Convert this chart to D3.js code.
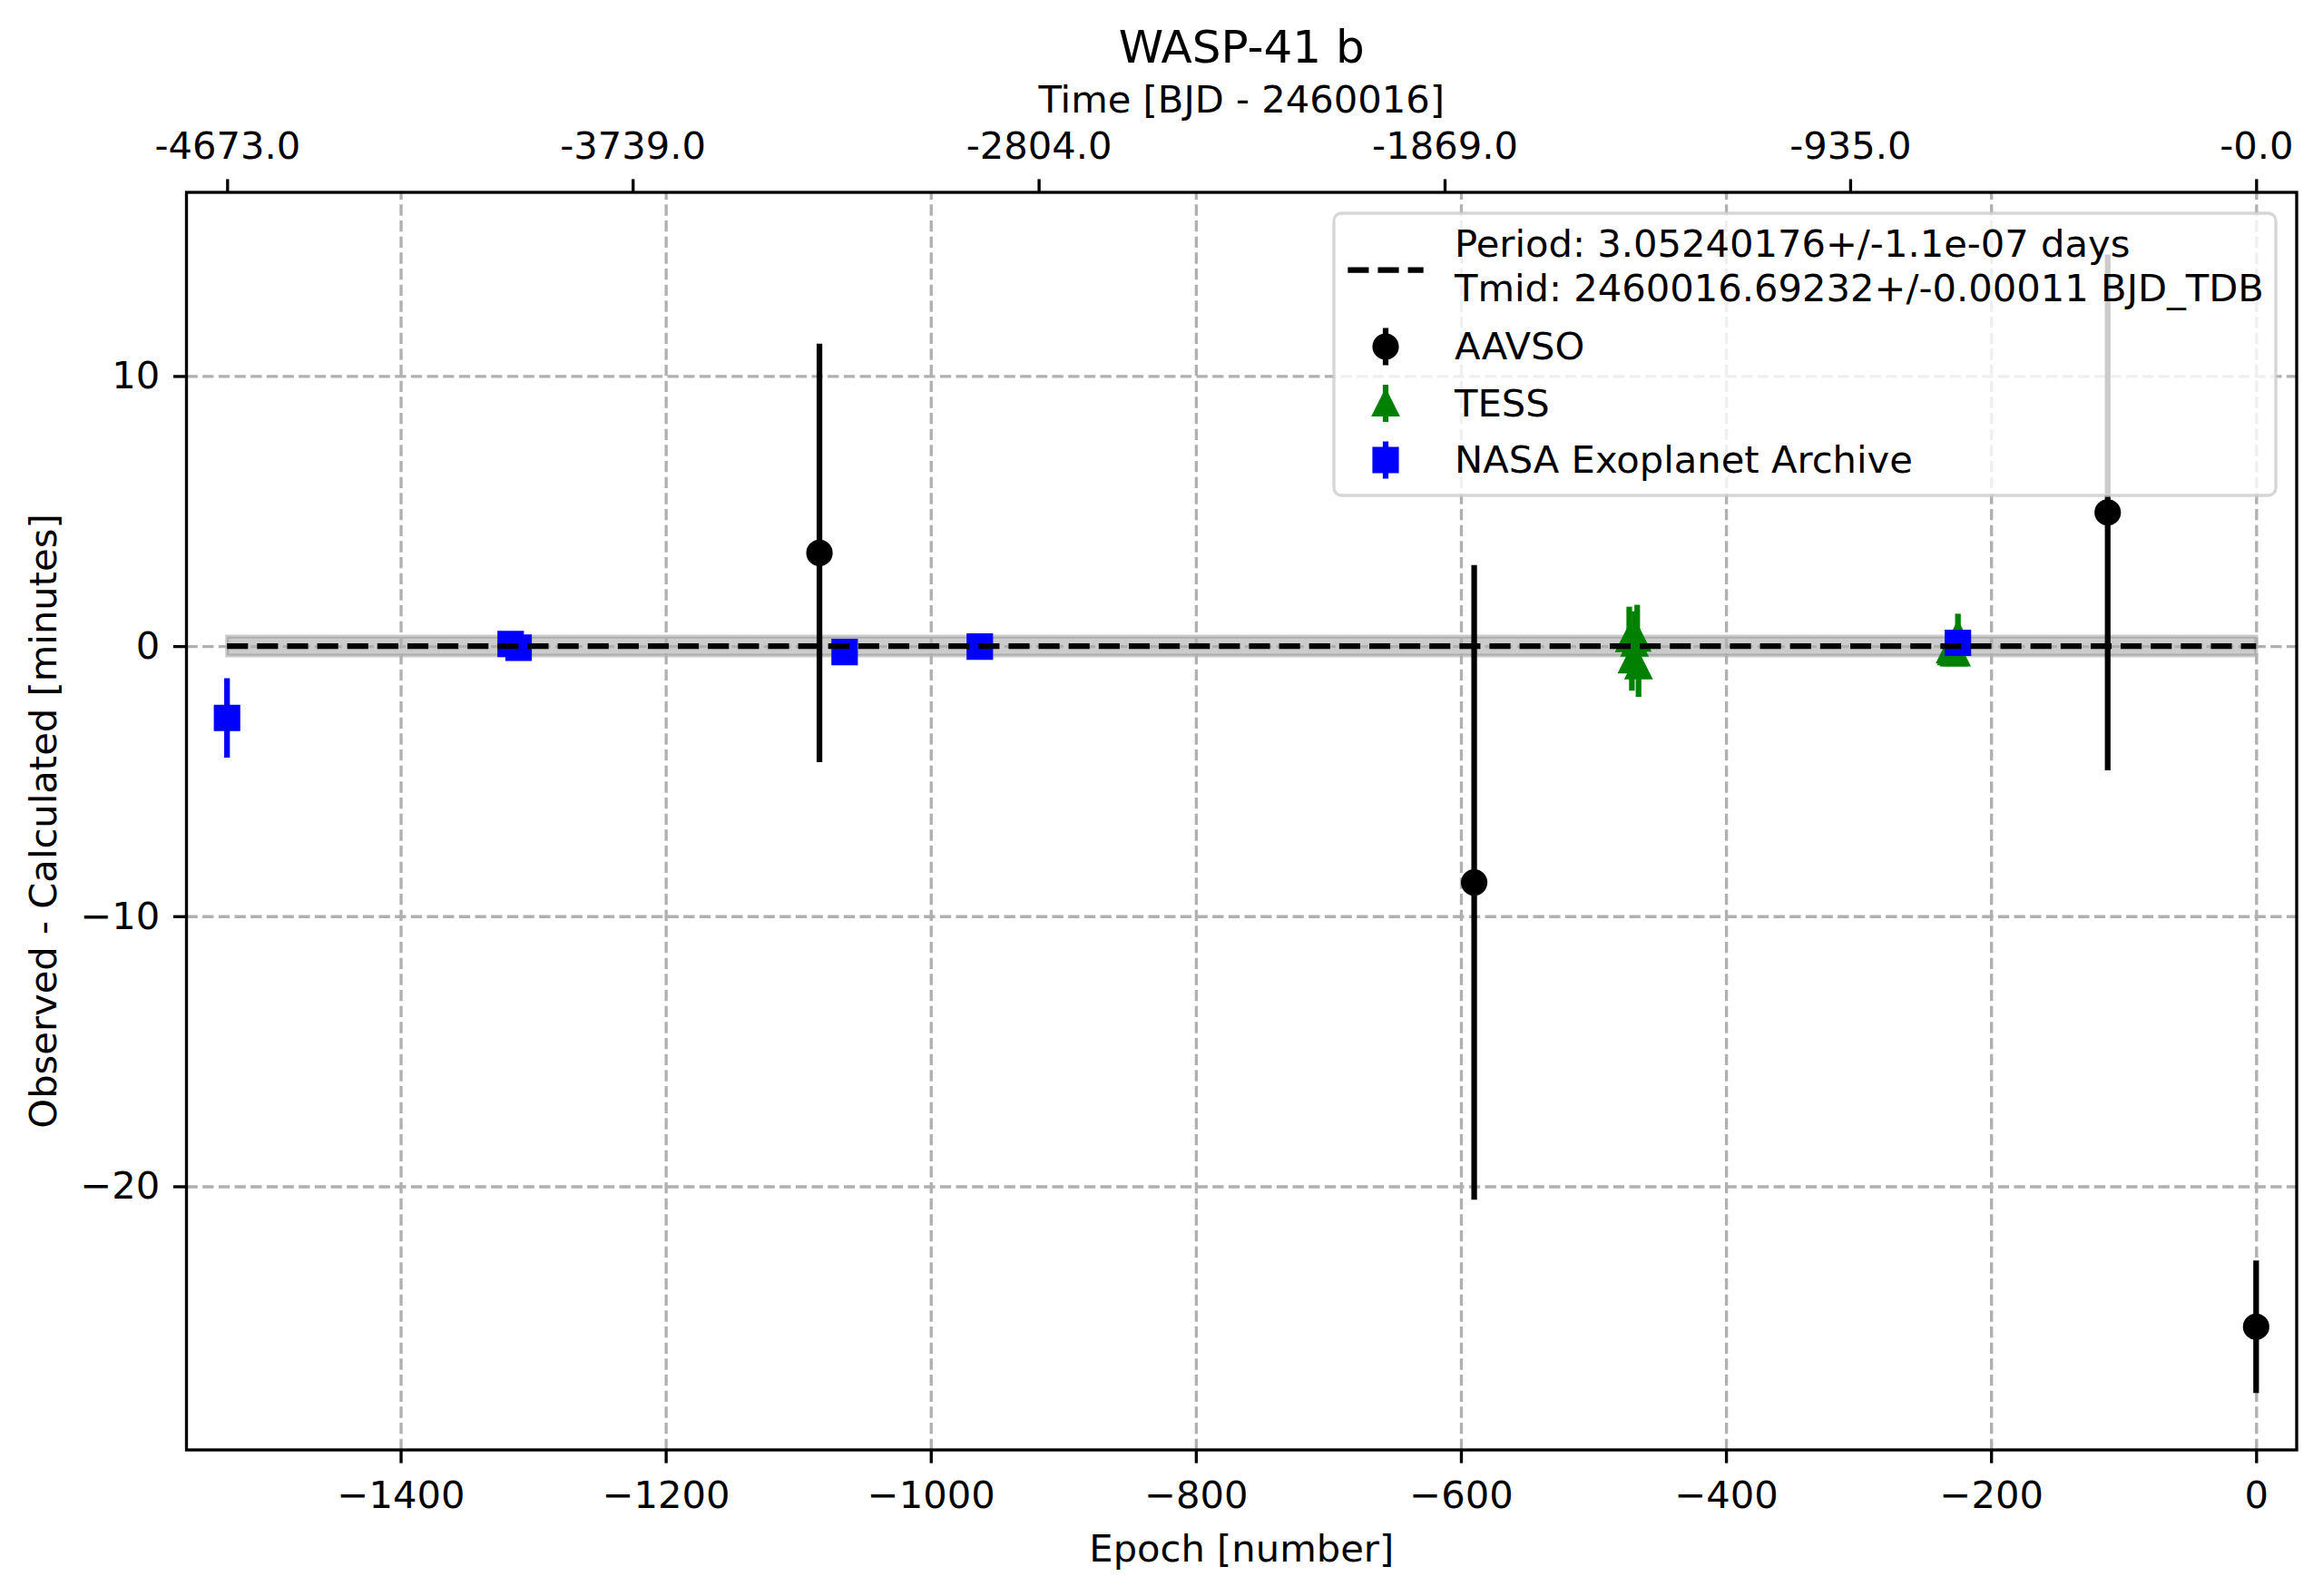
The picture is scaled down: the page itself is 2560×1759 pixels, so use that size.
<!DOCTYPE html>
<html>
<head>
<meta charset="utf-8">
<script src="https://cdnjs.cloudflare.com/ajax/libs/d3/7.8.5/d3.min.js"></script>
<style>
body { margin: 0; background: #fff; }
svg { display: block; font-family: "DejaVu Sans", sans-serif; }
</style>
</head>
<body>
<svg id="canvas" width="2560" height="1759"></svg>
<script>
let period = 3.05240176
let titleText = "WASP-41 b"
let periodLabel = "Period: 3.05240176+/-1.1e-07 days"
let tmidLabel = "Tmid: 2460016.69232+/-0.00011 BJD_TDB"
let seriesNames = ["AAVSO", "TESS", "NASA Exoplanet Archive"]

// O-C values in minutes, epochs as transit number
let aavsoEpoch = [-1084, -590, -112, 0]
let aavsoOC = [3.45, -8.75, 4.95, -25.2]
let aavsoErr = [7.75, 11.75, 9.55, 2.45]

let tessEpoch = [-473, -469, -467, -471, -466, -231, -230, -228, -226, -225]
let tessOC = [0.27, 0.10, 0.28, -0.52, -0.74, -0.15, -0.22, -0.26, -0.26, 0.41]
let tessErr = [1.19, 1.19, 1.25, 1.13, 1.14, 0.30, 0.30, 0.30, 0.35, 0.79]

let nasaEpoch = [-1531, -1317, -1311, -1065, -963, -225]
let nasaOC = [-2.66, 0.08, -0.06, -0.22, -0.02, 0.12]
let nasaErr = [1.47, 0.25, 0.25, 0.30, 0.30, 0.30]

let fitEpoch = [-1531, 0]
let fitOC = [0, 0]
let fitErr = [0.35, 0.35]

let xTicks = [-1400, -1200, -1000, -800, -600, -400, -200, 0]
let yTicks = [-20, -10, 0, 10]
let topTickTimes = [-4673.0, -3739.0, -2804.0, -1869.0, -935.0, -0.0]
let topTickLabels = ["-4673.0", "-3739.0", "-2804.0", "-1869.0", "-935.0", "-0.0"]

let pt = 300 / 72
let fs = 10 * pt
let axLeft = 205.5, axRight = 2531, axTop = 212, axBottom = 1598

let svg = d3.select("#canvas")

let x = d3.scaleLinear().domain([-1561.6, 30.6]).range([axLeft, axRight])
let y = d3.scaleLinear().domain([-29.76, 16.8]).range([axBottom, axTop])
let xTime = d3.scaleLinear().domain(x.domain().map(d => d * period)).range([axLeft, axRight])

svg.append("clipPath").attr("id", "clip")
  .append("rect")
  .attr("x", axLeft).attr("y", axTop)
  .attr("width", axRight - axLeft).attr("height", axBottom - axTop)

let plot = svg.append("g").attr("clip-path", "url(#clip)")

// fit uncertainty band
let band = d3.area()
  .x((d, i) => x(fitEpoch[i]))
  .y0((d, i) => y(fitOC[i] - fitErr[i]))
  .y1((d, i) => y(fitOC[i] + fitErr[i]))

plot.append("path")
  .attr("d", band(fitEpoch))
  .attr("fill", "gray").attr("fill-opacity", 0.4)
  .attr("stroke", "gray").attr("stroke-opacity", 0.4)
  .attr("stroke-width", pt)

// grid
let gridStyle = (g) => {
  g.select(".domain").remove()
  g.selectAll("line")
    .attr("stroke", "#b0b0b0")
    .attr("stroke-width", 0.8 * pt)
    .attr("stroke-dasharray", `${3.7 * 0.8 * pt},${1.6 * 0.8 * pt}`)
}

plot.append("g")
  .attr("transform", `translate(0,${axBottom})`)
  .call(d3.axisBottom(x).tickValues(xTicks).tickSize(-(axBottom - axTop)).tickFormat(""))
  .call(gridStyle)

plot.append("g")
  .attr("transform", `translate(${axLeft},0)`)
  .call(d3.axisLeft(y).tickValues(yTicks).tickSize(-(axRight - axLeft)).tickFormat(""))
  .call(gridStyle)

// marker shapes, 6pt wide
let m = 3 * pt
let shapes = {
  circle: `M${m},0A${m},${m} 0 1,1 ${-m},0A${m},${m} 0 1,1 ${m},0Z`,
  triangle: `M0,${-m}L${-m},${m}L${m},${m}Z`,
  square: `M${-m},${-m}H${m}V${m}H${-m}Z`
}

let drawSeries = (epochs, oc, err, color, shape) => {
  let g = plot.append("g")
  g.selectAll("line")
    .data(epochs)
    .enter()
    .append("line")
    .attr("x1", (d) => x(d))
    .attr("x2", (d) => x(d))
    .attr("y1", (d, i) => y(oc[i] - err[i]))
    .attr("y2", (d, i) => y(oc[i] + err[i]))
    .attr("stroke", color)
    .attr("stroke-width", 1.5 * pt)
  g.selectAll("path")
    .data(epochs)
    .enter()
    .append("path")
    .attr("d", shapes[shape])
    .attr("transform", (d, i) => `translate(${x(d)},${y(oc[i])})`)
    .attr("fill", color)
    .attr("stroke", color)
    .attr("stroke-width", pt)
    .attr("stroke-linejoin", "miter")
}

drawSeries(aavsoEpoch, aavsoOC, aavsoErr, "black", "circle")
drawSeries(tessEpoch, tessOC, tessErr, "green", "triangle")
drawSeries(nasaEpoch, nasaOC, nasaErr, "blue", "square")

// linear ephemeris
let fitLine = d3.line()
  .x((d, i) => x(fitEpoch[i]))
  .y((d, i) => y(fitOC[i]))

let dash = `${3.7 * 1.5 * pt},${1.6 * 1.5 * pt}`

plot.append("path")
  .attr("d", fitLine(fitEpoch))
  .attr("fill", "none")
  .attr("stroke", "black")
  .attr("stroke-width", 1.5 * pt)
  .attr("stroke-dasharray", dash)

// axes
let tickStyle = (g) => {
  g.select(".domain").remove()
  g.selectAll("line").attr("stroke", "black").attr("stroke-width", 0.8 * pt)
  g.selectAll("text").attr("font-size", fs).attr("fill", "black")
    .attr("font-family", "DejaVu Sans")
}

svg.append("g")
  .attr("transform", `translate(0,${axBottom})`)
  .call(d3.axisBottom(x).tickValues(xTicks).tickSize(3.5 * pt).tickPadding(3.5 * pt).tickFormat(d3.format("d")))
  .call(tickStyle)
  .call(g => g.selectAll("text").attr("dy", "0.84em"))

svg.append("g")
  .attr("transform", `translate(${axLeft},0)`)
  .call(d3.axisLeft(y).tickValues(yTicks).tickSize(3.5 * pt).tickPadding(3.5 * pt).tickFormat(d3.format("d")))
  .call(tickStyle)

svg.append("g")
  .attr("transform", `translate(0,${axTop})`)
  .call(d3.axisTop(xTime).tickValues(topTickTimes).tickSize(3.5 * pt).tickPadding(3.5 * pt)
    .tickFormat((d, i) => topTickLabels[i]))
  .call(tickStyle)
  .call(g => g.selectAll("text").attr("dy", "-0.19em"))

svg.append("rect")
  .attr("x", axLeft).attr("y", axTop)
  .attr("width", axRight - axLeft).attr("height", axBottom - axTop)
  .attr("fill", "none")
  .attr("stroke", "black")
  .attr("stroke-width", 0.8 * pt)

// labels
let cx = (axLeft + axRight) / 2

svg.append("text")
  .attr("x", cx).attr("y", 69)
  .attr("text-anchor", "middle")
  .attr("font-size", 12 * pt)
  .text(titleText)

svg.append("text")
  .attr("x", cx).attr("y", 124)
  .attr("text-anchor", "middle")
  .attr("font-size", fs)
  .text("Time [BJD - 2460016]")

svg.append("text")
  .attr("x", cx).attr("y", 1721)
  .attr("text-anchor", "middle")
  .attr("font-size", fs)
  .text("Epoch [number]")

svg.append("text")
  .attr("transform", `translate(62,${(axTop + axBottom) / 2}) rotate(-90)`)
  .attr("text-anchor", "middle")
  .attr("font-size", fs)
  .text("Observed - Calculated [minutes]")

// legend
let legend = svg.append("g")

legend.append("rect")
  .attr("x", 1470).attr("y", 235)
  .attr("width", 1038).attr("height", 311)
  .attr("rx", 0.2 * fs)
  .attr("fill", "white").attr("fill-opacity", 0.8)
  .attr("stroke", "#cccccc").attr("stroke-opacity", 0.8)
  .attr("stroke-width", 0.8 * pt)

let handleX = 1527
let textX = 1603

legend.append("line")
  .attr("x1", handleX - fs).attr("x2", handleX + fs)
  .attr("y1", 297.7).attr("y2", 297.7)
  .attr("stroke", "black")
  .attr("stroke-width", 1.5 * pt)
  .attr("stroke-dasharray", dash)

legend.append("text").attr("x", textX).attr("y", 283).attr("font-size", fs).text(periodLabel)
legend.append("text").attr("x", textX).attr("y", 331.7).attr("font-size", fs).text(tmidLabel)

let legendRows = [
  { name: seriesNames[0], color: "black", shape: "circle", cy: 382 },
  { name: seriesNames[1], color: "green", shape: "triangle", cy: 444.5 },
  { name: seriesNames[2], color: "blue", shape: "square", cy: 507 }
]

legendRows.forEach((row) => {
  legend.append("line")
    .attr("x1", handleX).attr("x2", handleX)
    .attr("y1", row.cy - 20.5).attr("y2", row.cy + 20.5)
    .attr("stroke", row.color)
    .attr("stroke-width", 1.5 * pt)
  legend.append("path")
    .attr("d", shapes[row.shape])
    .attr("transform", `translate(${handleX},${row.cy})`)
    .attr("fill", row.color)
    .attr("stroke", row.color)
    .attr("stroke-width", pt)
  legend.append("text")
    .attr("x", textX).attr("y", row.cy + 14)
    .attr("font-size", fs)
    .text(row.name)
})
</script>
</body>
</html>
